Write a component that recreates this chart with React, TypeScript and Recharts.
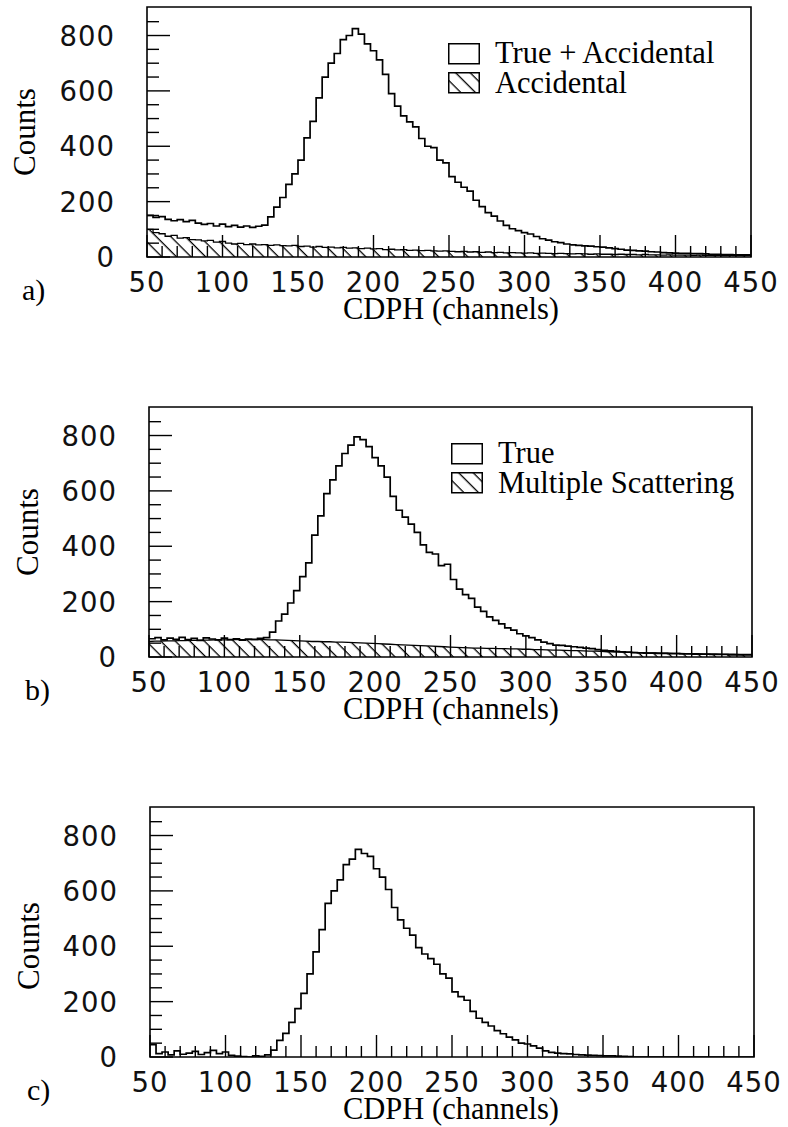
import React from 'react';
import { ComposedChart, Line, Area, XAxis, YAxis, ReferenceArea, Legend, Label } from 'recharts';

const SERIF = "'Liberation Serif', 'Times New Roman', serif";
const SANS = "'DejaVu Sans', 'Open Sans', sans-serif";

// histogram binning (channels)
const BIN_START = 50;
const BIN_WIDTH = 4;
const X_MIN = 50;
const X_MAX = 450;
const Y_MAX = 903;

const xTicks = [50, 60, 70, 80, 90, 100, 110, 120, 130, 140, 150, 160, 170, 180, 190, 200, 210, 220, 230, 240, 250,
  260, 270, 280, 290, 300, 310, 320, 330, 340, 350, 360, 370, 380, 390, 400, 410, 420, 430, 440, 450];
const yTicks = [0, 50, 100, 150, 200, 250, 300, 350, 400, 450, 500, 550, 600, 650, 700, 750, 800, 850];

// Panel a) True + Accidental, Accidental
const aTrueAccidental = [
  150, 143, 146, 136, 131, 135, 128, 132, 122, 118,
  121, 112, 119, 110, 114, 108, 112, 107, 111, 115,
  145, 180, 215, 262, 300, 350, 430, 490, 575, 650,
  700, 735, 785, 800, 825, 805, 770, 745, 712, 660,
  590, 545, 510, 488, 470, 428, 400, 395, 350, 340,
  290, 270, 252, 238, 205, 182, 160, 148, 130, 114,
  102, 95, 88, 83, 74, 66, 61, 55, 52, 47,
  44, 42, 40, 39, 37, 36, 33, 30, 28, 25,
  24, 22, 21, 19, 18, 16, 15, 14, 13, 13,
  12, 12, 11, 10, 10, 9, 9, 8, 8, 8,
];
const aAccidental = [
  100, 88, 84, 75, 78, 68, 70, 63, 62, 58,
  60, 54, 56, 50, 47, 49, 45, 47, 44, 45,
  42, 44, 41, 40, 42, 38, 39, 36, 38, 35,
  36, 33, 35, 32, 33, 30, 32, 29, 30, 27,
  28, 26, 27, 24, 25, 23, 24, 22, 21, 22,
  20, 19, 20, 18, 19, 17, 18, 16, 17, 15,
  16, 15, 14, 15, 13, 14, 13, 12, 13, 12,
  11, 12, 11, 10, 11, 10, 10, 9, 10, 9,
  9, 8, 9, 8, 8, 7, 8, 7, 7, 7,
  6, 7, 6, 6, 6, 5, 6, 5, 5, 5,
];

// Panel b) True, Multiple Scattering
const bTrue = [
  66, 70, 62, 68, 64, 71, 63, 67, 60, 69,
  65, 62, 68, 63, 66, 61, 65, 64, 67, 70,
  90, 130, 155, 195, 240, 290, 340, 440, 510, 590,
  640, 690, 735, 765, 795, 785, 760, 720, 690, 650,
  580, 530, 505, 480, 450, 405, 378, 372, 330, 335,
  280, 245, 225, 212, 180, 165, 145, 132, 120, 105,
  97, 84, 76, 70, 62, 54, 48, 43, 42, 39,
  37, 35, 32, 30, 27, 24, 22, 20, 19, 18,
  16, 15, 14, 14, 13, 13, 12, 12, 11, 11,
  10, 10, 10, 9, 9, 9, 8, 8, 8, 8,
];
const bMultipleScattering = [
  56, 57, 57, 58, 58, 59, 59, 60, 60, 61,
  61, 62, 62, 62, 63, 63, 63, 63, 63, 63,
  62, 62, 61, 60, 59, 58, 57, 56, 56, 55,
  55, 54, 54, 53, 52, 51, 50, 49, 48, 47,
  46, 45, 44, 43, 42, 41, 40, 39, 38, 37,
  36, 35, 34, 33, 32, 32, 31, 31, 30, 30,
  29, 29, 28, 28, 27, 27, 26, 25, 25, 24,
  23, 23, 22, 21, 21, 20, 19, 19, 18, 17,
  17, 16, 16, 15, 15, 14, 14, 13, 13, 12,
  12, 12, 11, 11, 11, 10, 10, 10, 9, 9,
];

// Panel c) True only
const cTrue = [
  45, 12, 18, 8, 22, 10, 14, 20, 9, 16,
  24, 12, 18, 6, 3, 1, 0, 4, 2, 8,
  25, 60, 85, 125, 175, 230, 300, 380, 460, 555,
  600, 640, 695, 715, 750, 735, 725, 680, 650, 605,
  540, 495, 465, 440, 395, 372, 355, 335, 300, 285,
  235, 218, 205, 165, 140, 125, 112, 95, 84, 72,
  62, 50, 47, 40, 32, 22, 17, 14, 12, 11,
  9, 8, 7, 6, 5, 4, 4, 3, 2, 1,
  0, 0, 0, 0, 0, 0, 0, 0, 0, 0,
  0, 0, 0, 0, 0, 0, 0, 0, 0, 0,
];

function buildRows(series: Record<string, number[]>) {
  const keys = Object.keys(series);
  const n = series[keys[0]].length;
  const rows: any[] = [];
  for (let i = 0; i < n; i++) {
    const row: any = { x: BIN_START + i * BIN_WIDTH };
    keys.forEach((k) => (row[k] = series[k][i]));
    rows.push(row);
  }
  const last: any = { x: X_MAX };
  keys.forEach((k) => (last[k] = series[k][n - 1]));
  rows.push(last);
  return rows;
}

const rowsA = buildRows({ main: aTrueAccidental, bg: aAccidental });
const rowsB = buildRows({ main: bTrue, bg: bMultipleScattering });
const rowsC = buildRows({ main: cTrue });

const PLOT_BOTTOM = 257;

const XTick = (props: any) => {
  const { x, payload } = props;
  const v = payload.value;
  const major = v % 50 === 0;
  const y0 = PLOT_BOTTOM;
  return (
    <g>
      <line x1={x} x2={x} y1={y0} y2={y0 - (major ? 22 : 11)} stroke="#000" strokeWidth={1.4} />
      {major && (
        <text x={x} y={y0 + 35} textAnchor="middle" fontFamily={SANS} fontSize={27.5} letterSpacing={1} fill="#111">
          {v}
        </text>
      )}
    </g>
  );
};

const makeYTick = (plotLeft: number) => (props: any) => {
  const { y, payload } = props;
  const v = payload.value;
  const major = v % 200 === 0;
  const x0 = plotLeft;
  return (
    <g>
      <line x1={x0} x2={x0 + (major ? 23 : 12)} y1={y} y2={y} stroke="#000" strokeWidth={1.4} />
      {major && (
        <text x={x0 - 32} y={y + 10} textAnchor="end" fontFamily={SANS} fontSize={27.5} letterSpacing={1} fill="#111">
          {v}
        </text>
      )}
    </g>
  );
};

const Hatch = ({ id }: { id: string }) => (
  <pattern id={id} patternUnits="userSpaceOnUse" width={10.3} height={10.3} patternTransform="rotate(-45)">
    <line x1={5} y1={-1} x2={5} y2={11.3} stroke="#000" strokeWidth={1.3} />
  </pattern>
);

const LegendBlock = ({ id, first, second }: { id: string; first: string; second: string }) => (
  <svg width={320} height={56} style={{ display: 'block', overflow: 'visible' }}>
    <defs>
      <Hatch id={id} />
    </defs>
    <rect x={0.75} y={0.75} width={30.5} height={20} fill="#fff" stroke="#000" strokeWidth={1.5} />
    <text x={47} y={20} fontFamily={SERIF} fontSize={30.5} fill="#000">{first}</text>
    <rect x={0.75} y={29.75} width={30.5} height={20} fill={`url(#${id})`} stroke="#000" strokeWidth={1.5} />
    <text x={47} y={50} fontFamily={SERIF} fontSize={30.5} fill="#000">{second}</text>
  </svg>
);

type PanelProps = {
  rows: any[];
  left: number;
  right: number;
  letter: string;
  letterX: number;
  countsX: number;
  countsY: number;
  hatchId?: string;
  bgType?: 'stepAfter' | 'linear';
  legend?: { first: string; second: string; left: number };
};

function Panel({ rows, left, right, letter, letterX, countsX, countsY, hatchId, bgType, legend }: PanelProps) {
  const YTick = makeYTick(left);
  return (
    <ComposedChart
      width={788}
      height={400}
      data={rows}
      margin={{ top: 7, bottom: 400 - PLOT_BOTTOM - 30, left: left - 40, right: 788 - right }}
    >
      {hatchId && (
        <defs>
          <Hatch id={hatchId} />
        </defs>
      )}
      {hatchId && (
        <Area
          type={bgType || 'stepAfter'}
          dataKey="bg"
          stroke="#000"
          strokeWidth={1.3}
          fill={`url(#${hatchId})`}
          fillOpacity={1}
          dot={false}
          activeDot={false}
          isAnimationActive={false}
        />
      )}
      <Line
        type="stepAfter"
        dataKey="main"
        stroke="#000"
        strokeWidth={1.7}
        dot={false}
        activeDot={false}
        isAnimationActive={false}
      />
      <XAxis
        dataKey="x"
        type="number"
        domain={[X_MIN, X_MAX]}
        ticks={xTicks}
        interval={0}
        allowDataOverflow
        height={30}
        tickSize={0}
        tickMargin={0}
        axisLine={false}
        tickLine={false}
        tick={<XTick />}
      >
        <Label
          content={() => (
            <g>
              <text x={343} y={319} fontFamily={SERIF} fontSize={30.5} fill="#000">CDPH (channels)</text>
              <text x={letterX} y={300} fontFamily={SERIF} fontSize={30} fill="#000">{letter}</text>
            </g>
          )}
        />
      </XAxis>
      <YAxis
        type="number"
        domain={[0, Y_MAX]}
        ticks={yTicks}
        interval={0}
        allowDataOverflow
        width={40}
        tickSize={0}
        tickMargin={0}
        axisLine={false}
        tickLine={false}
        tick={YTick}
      >
        <Label
          content={() => (
            <text
              x={countsX}
              y={countsY}
              transform={`rotate(-90, ${countsX}, ${countsY})`}
              textAnchor="middle"
              fontFamily={SERIF}
              fontSize={31}
              fill="#000"
            >
              Counts
            </text>
          )}
        />
      </YAxis>
      <ReferenceArea x1={X_MIN} x2={X_MAX} y1={0} y2={Y_MAX} fill="none" stroke="#000" strokeWidth={1.6} ifOverflow="visible" />
      {legend && (
        <Legend
          layout="vertical"
          align="center"
          verticalAlign="middle"
          wrapperStyle={{ left: legend.left, top: 43, width: 320, height: 56 }}
          content={() => <LegendBlock id={`${hatchId}-lg`} first={legend.first} second={legend.second} />}
        />
      )}
    </ComposedChart>
  );
}

export default function App() {
  return (
    <div style={{ position: 'absolute', left: 0, top: 0, width: 788, height: 1127, overflow: 'hidden', background: '#fff' }}>
      <div style={{ position: 'absolute', left: 0, top: 0 }}>
        <Panel
          rows={rowsA}
          left={147}
          right={751}
          letter="a)"
          letterX={22}
          countsX={35}
          countsY={132}
          hatchId="hatchA"
          bgType="stepAfter"
          legend={{ first: 'True + Accidental', second: 'Accidental', left: 448 }}
        />
      </div>
      <div style={{ position: 'absolute', left: 0, top: 400 }}>
        <Panel
          rows={rowsB}
          left={149}
          right={752}
          letter="b)"
          letterX={25}
          countsX={38}
          countsY={132}
          hatchId="hatchB"
          bgType="linear"
          legend={{ first: 'True', second: 'Multiple Scattering', left: 451 }}
        />
      </div>
      <div style={{ position: 'absolute', left: 0, top: 800 }}>
        <Panel rows={rowsC} left={150} right={754} letter="c)" letterX={27} countsX={39} countsY={146} />
      </div>
    </div>
  );
}
